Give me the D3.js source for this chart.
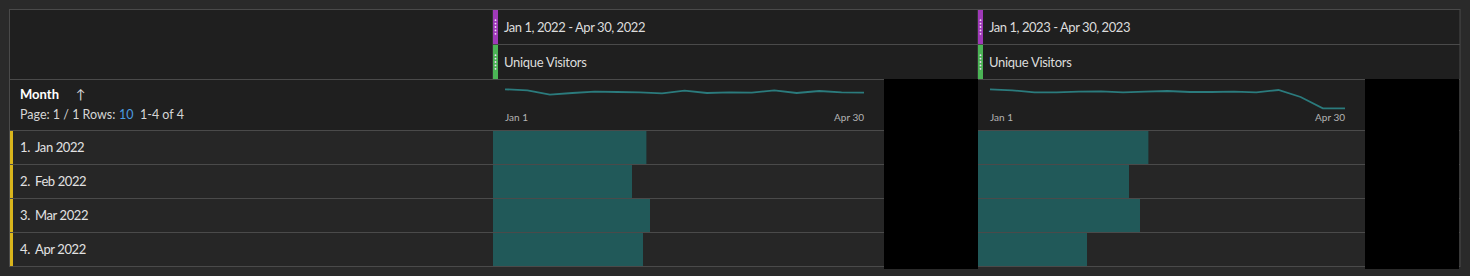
<!DOCTYPE html>
<html>
<head>
<meta charset="utf-8">
<script src="https://cdn.jsdelivr.net/npm/d3@7"></script>
<style>
  body { margin: 0; background: #2a2a2a; }
  svg { display: block; font-family: Lato, "Noto Sans", sans-serif; }
</style>
</head>
<body>
<div id="chart"></div>
<script>
// table values
const months = ['Jan 2022', 'Feb 2022', 'Mar 2022', 'Apr 2022'];
const periods = ['Jan 1, 2022 - Apr 30, 2022', 'Jan 1, 2023 - Apr 30, 2023'];
const metricName = 'Unique Visitors';
const visitors2022 = [15340, 13900, 15700, 15000];
const visitors2023 = [17040, 15100, 16200, 10900];
// weekly trend for the sparklines
const weekly2022 = [4070, 3970, 3530, 3700, 3830, 3800, 3770, 3670, 3930, 3700, 3770, 3730, 3970, 3700, 3900, 3770, 3730];
const weekly2023 = [4070, 3970, 3770, 3770, 3830, 3870, 3770, 3830, 3900, 3800, 3800, 3830, 3770, 4000, 3300, 2170, 2170];
const sparkTicks = ['Jan 1', 'Apr 30'];

const width = 1470, height = 276;
const tLeft = 10, tRight = 1460, tTop = 9;
const h1 = 44, h2 = 79, h3 = 130, rowH = 34;
const colX = [493, 978], colW = [391, 387];
const tBottom = h3 + rowH * months.length;
const lineCol = '#4a4a4a';

const svg = d3.select('#chart').append('svg')
  .attr('width', width)
  .attr('height', height);

// backgrounds
svg.append('rect').attr('x', tLeft).attr('y', tTop).attr('width', tRight - tLeft).attr('height', h3 - tTop).attr('fill', '#1f1f1f');
svg.append('rect').attr('x', tLeft).attr('y', h3).attr('width', tRight - tLeft).attr('height', tBottom - h3).attr('fill', '#262626');

const columns = [
  { period: periods[0], values: visitors2022, weekly: weekly2022 },
  { period: periods[1], values: visitors2023, weekly: weekly2023 }
];

const x = d3.scaleLinear().domain([0, 39100]).range([0, 391]);
const ySpark = d3.scaleLinear().domain([0, 4100]).range([130, 89]);
const y = d3.scaleBand().domain(months).range([h3, tBottom]);

// bars
columns.forEach((c, i) => {
  svg.append('g').selectAll('rect')
    .data(c.values)
    .enter()
    .append('rect')
    .attr('x', colX[i])
    .attr('y', (d, j) => y(months[j]))
    .attr('width', d => x(d))
    .attr('height', y.bandwidth())
    .attr('fill', '#215959');
});

// grid lines
svg.append('line').attr('x1', tLeft).attr('x2', tRight).attr('y1', h2 + 0.5).attr('y2', h2 + 0.5).attr('stroke', lineCol);
svg.append('line').attr('x1', colX[0]).attr('x2', tRight).attr('y1', h1 + 0.5).attr('y2', h1 + 0.5).attr('stroke', lineCol);
svg.append('g').selectAll('line')
  .data(months.concat(['end']))
  .enter()
  .append('line')
  .attr('x1', tLeft).attr('x2', tRight)
  .attr('y1', (d, j) => h3 + j * rowH + 0.5)
  .attr('y2', (d, j) => h3 + j * rowH + 0.5)
  .attr('stroke', lineCol);
svg.append('rect')
  .attr('x', tLeft - 0.5).attr('y', tTop + 0.5)
  .attr('width', tRight - tLeft + 0.5).attr('height', tBottom - tTop)
  .attr('fill', 'none').attr('stroke', lineCol);

// row labels + yellow markers
const rows = svg.append('g');
rows.selectAll('rect')
  .data(months)
  .enter()
  .append('rect')
  .attr('x', tLeft).attr('y', d => y(d) + 1)
  .attr('width', 3).attr('height', y.bandwidth() - 1)
  .attr('fill', '#d9b51c');
const labels = rows.selectAll('text')
  .data(months)
  .enter()
  .append('text')
  .attr('y', d => y(d) + y.bandwidth() / 2 + 5)
  .attr('fill', '#e2e2e2')
  .style('font-size', '13px')
  .style('letter-spacing', '-0.4px');
labels.append('tspan').attr('x', 20).text((d, j) => `${j + 1}.`);
labels.append('tspan').attr('x', 35).text(d => d);

// left header
svg.append('text').attr('x', 20).attr('y', 99)
  .attr('fill', '#ffffff').style('font-size', '13px').style('font-weight', 'bold')
  .text('Month');
svg.append('text').attr('x', 76).attr('y', 99)
  .attr('fill', '#d8d8d8').style('font-size', '13px')
  .text('↑');
const pager = svg.append('text').attr('x', 20).attr('y', 119)
  .attr('fill', '#d6d6d6').style('font-size', '12.5px');
pager.append('tspan').text('Page: 1 / 1 Rows:');
pager.append('tspan').attr('x', 119).attr('fill', '#4a9be0').text('10');
pager.append('tspan').attr('x', 140).text('1-4 of 4');

// column headers, sparklines
function marker(xp, y0, y1, color) {
  svg.append('rect').attr('x', xp).attr('y', y0).attr('width', 5).attr('height', y1 - y0).attr('fill', color);
  const mid = (y0 + y1) / 2;
  svg.append('g').selectAll('circle')
    .data([-2, -1, 0, 1, 2])
    .enter()
    .append('circle')
    .attr('cx', xp + 2.5)
    .attr('cy', d => mid + d * 3.4)
    .attr('r', 0.9)
    .attr('fill', '#f0d8f5');
}

columns.forEach((c, i) => {
  const x0 = colX[i];
  svg.append('line').attr('x1', x0).attr('x2', x0).attr('y1', tTop).attr('y2', h2).attr('stroke', lineCol);
  marker(x0, tTop + 1, h1, '#9f39b8');
  marker(x0, h1 + 1, h2, '#4bb455');
  svg.append('text').attr('x', x0 + 11).attr('y', 32)
    .attr('fill', '#dcdcdc').style('font-size', '13px').style('letter-spacing', '-0.45px')
    .text(c.period);
  svg.append('text').attr('x', x0 + 11).attr('y', 67)
    .attr('fill', '#dcdcdc').style('font-size', '13px').style('letter-spacing', '-0.3px')
    .text(metricName);

  const xs = d3.scaleLinear().domain([0, c.weekly.length - 1]).range([x0 + 12, x0 + colW[i] - 20]);
  svg.append('path')
    .datum(c.weekly)
    .attr('d', d3.line().x((d, j) => xs(j)).y(d => ySpark(d)))
    .attr('fill', 'none')
    .attr('stroke', '#2b7b7d')
    .attr('stroke-width', 1.8);
  svg.append('text').attr('x', xs(0)).attr('y', 121)
    .attr('fill', '#b4b4b4').style('font-size', '10px').text(sparkTicks[0]);
  svg.append('text').attr('x', xs(c.weekly.length - 1)).attr('y', 121)
    .attr('text-anchor', 'end')
    .attr('fill', '#b4b4b4').style('font-size', '10px').text(sparkTicks[1]);

  // blacked-out area right of each column
  svg.append('rect')
    .attr('x', x0 + colW[i]).attr('y', h2)
    .attr('width', 94).attr('height', 190)
    .attr('fill', '#000');
});
</script>
</body>
</html>
